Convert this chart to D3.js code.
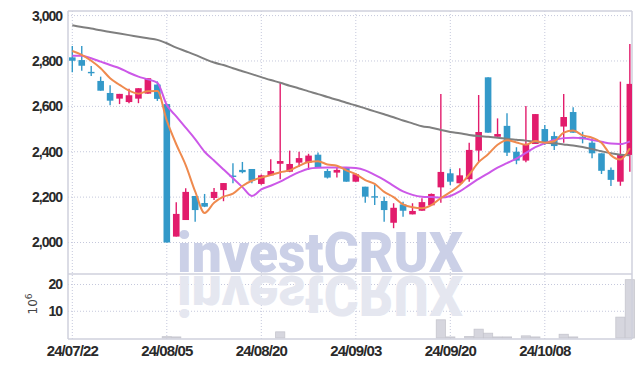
<!DOCTYPE html>
<html><head><meta charset="utf-8">
<script src="https://cdn.jsdelivr.net/npm/d3@7"></script>
<style>body{margin:0;background:#fff}svg{display:block}</style>
</head><body><svg id="c" width="642" height="368"></svg>
<script>
const dates=["24/07/22","24/07/23","24/07/24","24/07/25","24/07/26","24/07/29","24/07/30","24/07/31","24/08/01","24/08/02",
"24/08/05","24/08/06","24/08/07","24/08/08","24/08/09","24/08/12","24/08/13","24/08/14","24/08/16","24/08/19",
"24/08/20","24/08/21","24/08/22","24/08/23","24/08/26","24/08/27","24/08/28","24/08/29","24/08/30","24/09/02",
"24/09/03","24/09/04","24/09/05","24/09/06","24/09/09","24/09/10","24/09/11","24/09/12","24/09/13","24/09/19",
"24/09/20","24/09/23","24/09/24","24/09/25","24/09/26","24/09/27","24/09/30","24/10/02","24/10/04","24/10/07",
"24/10/08","24/10/10","24/10/11","24/10/14","24/10/15","24/10/16","24/10/17","24/10/18","24/10/21","24/10/22"];
const open=[2816,2804,2752,2712,2659,2634,2619,2634,2656,2696,2610,2026,2099,2205,2174,2196,2231,2295,2320,2324,2258,2296,2347,2312,2352,2352,2387,2315,2308,2330,2268,2246,2204,2183,2087,2168,2124,2140,2164,2243,2305,2261,2279,2405,2728,2466,2514,2400,2361,2434,2500,2469,2511,2575,2466,2440,2393,2320,2268,2386];
const high=[2866,2866,2778,2731,2693,2655,2678,2680,2724,2710,2612,2177,2239,2205,2214,2240,2262,2349,2355,2324,2300,2367,2702,2405,2400,2391,2397,2324,2331,2330,2305,2246,2253,2202,2173,2180,2173,2195,2216,2655,2325,2327,2440,2650,2728,2547,2570,2420,2602,2566,2518,2488,2654,2596,2488,2459,2393,2331,2709,2875];
const low=[2750,2757,2734,2669,2605,2610,2614,2614,2656,2624,2000,2026,2099,2092,2156,2187,2182,2261,2305,2261,2255,2296,2279,2310,2334,2320,2331,2282,2287,2268,2268,2175,2165,2092,2063,2114,2124,2140,2164,2175,2253,2261,2268,2356,2484,2466,2381,2345,2354,2434,2430,2408,2440,2484,2437,2371,2302,2249,2250,2312];
const close=[2801,2779,2748,2669,2625,2655,2649,2680,2724,2633,2000,2126,2223,2143,2158,2223,2262,2291,2310,2272,2296,2315,2359,2346,2372,2383,2331,2286,2320,2268,2301,2202,2200,2143,2153,2140,2139,2178,2214,2311,2268,2296,2408,2487,2484,2478,2396,2361,2434,2566,2442,2425,2553,2484,2455,2393,2316,2276,2389,2699];
const volume=[0,0,0,0,0,0,0,0,0,0,0.5,0.4,0,0,0,0,0,0,0,0,0,0,2.3,0,0,0,0,0,0,0,0,0,0,0,0,0,0,0,0,6.8,0.4,0,0.6,3.3,1.8,0.4,0.4,0,0.8,0.4,0,0,1.4,0.4,0,0,0,0,7.8,21.8];
const ma5=[2844,2827,2801,2768,2724,2695,2669,2656,2667,2668,2537,2433,2341,2225,2130,2175,2202,2215,2249,2272,2286,2297,2310,2318,2338,2355,2358,2344,2338,2318,2301,2275,2258,2223,2200,2168,2155,2151,2165,2196,2222,2253,2299,2354,2389,2431,2451,2441,2431,2447,2440,2446,2484,2494,2472,2462,2440,2385,2366,2415];
const ma20=[2823,2823,2812,2797,2782,2768,2748,2731,2719,2704,2606,2556,2506,2456,2400,2361,2322,2283,2244,2205,2234,2250,2268,2290,2310,2325,2329,2330,2330,2330,2328,2318,2298,2276,2250,2225,2210,2202,2200,2198,2205,2225,2253,2280,2305,2330,2350,2370,2395,2420,2437,2452,2460,2462,2460,2452,2444,2436,2434,2446];
const ma60=[2957,2950,2943,2935,2928,2921,2914,2907,2900,2893,2878,2859,2843,2827,2809,2793,2782,2768,2755,2742,2729,2716,2704,2691,2679,2666,2654,2641,2629,2616,2604,2591,2578,2565,2552,2538,2525,2512,2506,2496,2487,2481,2474,2469,2466,2462,2457,2453,2449,2444,2440,2437,2432,2427,2421,2412,2402,2393,2387,2384];
const priceTicks=[2000,2200,2400,2600,2800,3000];
const volTicks=[10,20];
const xTickIdx=[0,10,20,30,40,50];

const svg=d3.select("#c");
const L=68,R=632,T=11,M=274,B=339;
const x=d3.scaleLinear().domain([0,59]).range([72.3,629.85]);
const y=d3.scaleLinear().domain([2000,3000]).range([242.5,15.6]);
const yv=d3.scaleLinear().domain([0,20]).range([338,284.5]);
const idx=d3.range(dates.length);
const gridC="#c5c8dc", borderC="#cfd0dc";
const upC="#e21c6c", dnC="#3399c9";

const defs=svg.append("defs");
defs.append("clipPath").attr("id","cp").append("rect").attr("x",L).attr("y",T).attr("width",R-L).attr("height",M-T);
defs.append("clipPath").attr("id","cv").append("rect").attr("x",L).attr("y",M).attr("width",R-L).attr("height",B-M);

// grid
const g=svg.append("g");
g.selectAll(".vg").data(xTickIdx).join("line").attr("x1",d=>x(d)).attr("x2",d=>x(d)).attr("y1",T).attr("y2",B)
 .attr("stroke",gridC).attr("stroke-width",1).attr("stroke-dasharray","1,2");
g.selectAll(".hg").data(priceTicks).join("line").attr("x1",L).attr("x2",R).attr("y1",d=>y(d)).attr("y2",d=>y(d))
 .attr("stroke",gridC).attr("stroke-width",1).attr("stroke-dasharray","1,2");
g.selectAll(".hv").data(volTicks).join("line").attr("x1",L).attr("x2",R).attr("y1",d=>yv(d)).attr("y2",d=>yv(d))
 .attr("stroke",gridC).attr("stroke-width",1).attr("stroke-dasharray","1,2");

// watermark
const wm=svg.append("g");
wm.append("g").attr("clip-path","url(#cp)").append("text").attr("x",177).attr("y",272)
 .attr("font-family","Roboto, sans-serif").attr("font-weight",900).attr("font-size",56)
 .attr("textLength",286).attr("lengthAdjust","spacingAndGlyphs").attr("fill","#cbd0e7").text("investCRUX");
wm.append("g").attr("clip-path","url(#cv)").append("text").attr("x",177).attr("y",272)
 .attr("transform","translate(0,548) scale(1,-1)")
 .attr("font-family","Roboto, sans-serif").attr("font-weight",900).attr("font-size",56)
 .attr("textLength",286).attr("lengthAdjust","spacingAndGlyphs").attr("fill","#e5e7f0").text("investCRUX");

// volume bars
svg.append("g").selectAll("rect").data(idx.filter(i=>volume[i]>0)).join("rect")
 .attr("x",i=>x(i)-4.6).attr("width",9.2).attr("y",i=>yv(volume[i])).attr("height",i=>yv(0)-yv(volume[i]))
 .attr("fill","#d6d6de").attr("stroke","#c6c6ce").attr("stroke-width",0.8);

// borders
const bd=svg.append("g").attr("stroke",borderC).attr("stroke-width",1.5).attr("fill","none");
bd.append("line").attr("x1",L).attr("x2",R).attr("y1",T).attr("y2",T);
bd.append("line").attr("x1",L).attr("x2",R).attr("y1",M).attr("y2",M);
bd.append("line").attr("x1",L).attr("x2",R).attr("y1",B).attr("y2",B);
bd.append("line").attr("x1",L).attr("x2",L).attr("y1",T).attr("y2",B);
bd.append("line").attr("x1",R).attr("x2",R).attr("y1",T).attr("y2",B);

// candles
const cg=svg.append("g").attr("clip-path","url(#cp)");
const col=i=>close[i]>=open[i]?upC:dnC;
cg.selectAll(".w").data(idx).join("line").attr("x1",i=>x(i)).attr("x2",i=>x(i))
 .attr("y1",i=>y(high[i])).attr("y2",i=>y(low[i])).attr("stroke",col).attr("stroke-width",1.4);
cg.selectAll(".b").data(idx).join("rect").attr("x",i=>x(i)-3.3).attr("width",6.6)
 .attr("y",i=>y(Math.max(open[i],close[i])))
 .attr("height",i=>Math.max(1.4,Math.abs(y(open[i])-y(close[i]))))
 .attr("fill",col);

// MA lines
const lg=svg.append("g").attr("clip-path","url(#cp)").attr("fill","none");
const line=arr=>d3.line().x(i=>x(i)).y(i=>y(arr[i])).curve(d3.curveMonotoneX)(idx);
lg.append("path").attr("d",line(ma60)).attr("stroke","#7f7f7f").attr("stroke-width",2);
lg.append("path").attr("d",line(ma20)).attr("stroke","#cc58e8").attr("stroke-width",2);
lg.append("path").attr("d",line(ma5)).attr("stroke","#ef8a4e").attr("stroke-width",2);

// axis labels
const tf=d3.format(",");
svg.append("g").selectAll("text").data(priceTicks).join("text").attr("x",62).attr("y",d=>y(d))
 .attr("dy","0.35em").attr("text-anchor","end").attr("font-family","'Liberation Sans', Arial, sans-serif")
 .attr("font-weight","bold").attr("font-size",14).attr("letter-spacing",-1).attr("fill","#2a2a2a").text(d=>tf(d));
svg.append("g").selectAll("text").data(volTicks).join("text").attr("x",62).attr("y",d=>yv(d))
 .attr("dy","0.35em").attr("text-anchor","end").attr("font-family","'Liberation Sans', Arial, sans-serif")
 .attr("font-weight","bold").attr("font-size",14).attr("letter-spacing",-1).attr("fill","#2a2a2a").text(d=>d);
const u=svg.append("text").attr("transform","translate(37,304) rotate(-90)").attr("text-anchor","middle")
 .attr("font-family","'DejaVu Sans', sans-serif").attr("font-size",12).attr("fill","#444");
u.append("tspan").text("10");
u.append("tspan").attr("dy",-5).attr("font-size",9).text("6");
svg.append("g").selectAll("text").data(xTickIdx).join("text").attr("x",i=>x(i)).attr("y",351)
 .attr("dy","0.35em").attr("text-anchor","middle").attr("font-family","'Liberation Sans', Arial, sans-serif")
 .attr("font-weight","bold").attr("font-size",15).attr("letter-spacing",-0.9).attr("fill","#2a2a2a").text(i=>dates[i]);
</script></body></html>
